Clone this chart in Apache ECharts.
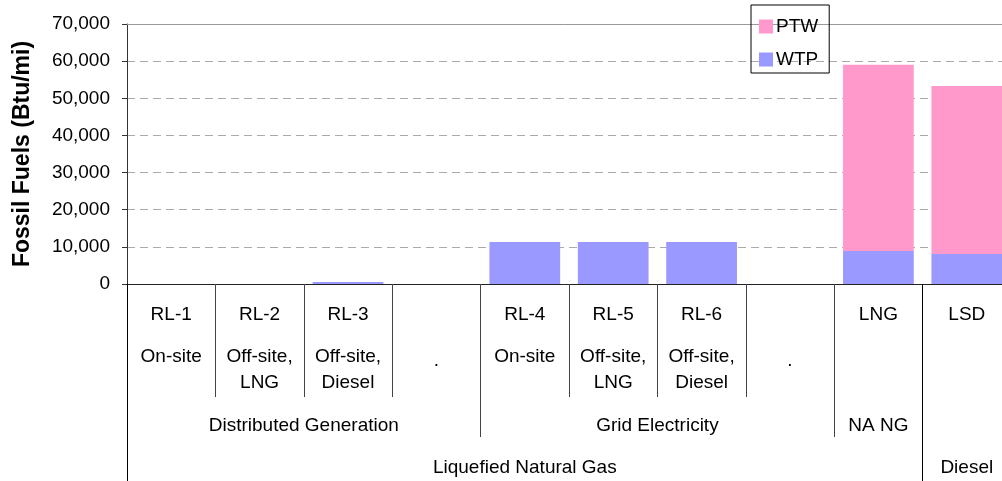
<!DOCTYPE html>
<html>
<head>
<meta charset="utf-8">
<script src="https://cdn.jsdelivr.net/npm/echarts@6/dist/echarts.min.js"></script>
<style>
  html, body { margin: 0; padding: 0; background: #fff; }
  #chart { width: 1002px; height: 481px; }
</style>
</head>
<body>
<div id="chart"></div>
<script>
  // data
  var categories = ['RL-1', 'RL-2', 'RL-3', '', 'RL-4', 'RL-5', 'RL-6', '', 'LNG', 'LSD'];
  var subLabels = ['On-site', 'Off-site,\nLNG', 'Off-site,\nDiesel', '.', 'On-site', 'Off-site,\nLNG', 'Off-site,\nDiesel', '.', '', ''];
  var wtp = [0, 0, 540, 0, 11300, 11300, 11300, 0, 8900, 8100];
  var ptw = [0, 0, 0, 0, 0, 0, 0, 0, 50100, 45200];
  var groupNames = ['Distributed Generation', 'Grid Electricity', 'NA NG', ''];
  var groupSizes = [4, 4, 1, 1];
  var fuelNames = ['Liquefied Natural Gas', 'Diesel'];
  var fuelSizes = [9, 1];
  var yTicks = [0, 10000, 20000, 30000, 40000, 50000, 60000, 70000];

  var font = 'Arial, "Liberation Sans", sans-serif';

  // work out spans for the grouped label rows
  function spans(sizes, names) {
    var bounds = [0], centers = {}, pos = 0;
    for (var i = 0; i < sizes.length; i++) {
      if (names[i]) centers[pos + sizes[i] / 2] = names[i];
      pos += sizes[i];
      bounds.push(pos);
    }
    return {bounds: bounds, centers: centers};
  }
  var grp = spans(groupSizes, groupNames);
  var fuel = spans(fuelSizes, fuelNames);
  var colBounds = categories.map(function (c, i) { return i; }).slice(1);

  var myChart = echarts.init(document.getElementById('chart'));

  var labelBase = {color: '#000', fontSize: 19, fontFamily: font, lineHeight: 20};

  var option = {
    animation: false,
    grid: {left: 127, right: -9, top: 24, bottom: 197, containLabel: false, outerBoundsMode: 'none'},
    legend: {
      data: ['PTW', 'WTP'],
      orient: 'vertical',
      left: 751,
      top: 5,
      padding: [12, 11, 4, 8],
      itemGap: 14,
      itemWidth: 14,
      itemHeight: 14,
      borderColor: '#000',
      borderWidth: 1,
      textStyle: {fontSize: 19, fontFamily: font, color: '#000', lineHeight: 16, padding: [0, 0, 0, -2]},
      icon: 'rect'
    },
    xAxis: [
      {
        type: 'category',
        position: 'bottom', offset: 0,
        data: categories,
        axisLine: {lineStyle: {color: '#222'}},
        axisTick: {show: false},
        axisLabel: Object.assign({interval: 0, margin: 21}, labelBase)
      },
      {
        type: 'category',
        position: 'bottom', offset: 0,
        data: subLabels,
        axisLine: {show: false},
        axisTick: {show: false},
        axisLabel: Object.assign({}, labelBase, {
          interval: 0, margin: 60, lineHeight: 26,
          formatter: function (v) { return v === '.' ? '{dot|.}' : v; },
          rich: {dot: {fontSize: 19, fontFamily: font, color: '#000', padding: [8, 0, 0, 0]}}
        })
      },
      {
        type: 'value', min: 0, max: 10,
        position: 'bottom', offset: 0,
        axisLine: {show: false},
        splitLine: {show: false},
        axisTick: {show: true, customValues: colBounds, length: 113, lineStyle: {color: '#444'}},
        axisLabel: {show: false}
      },
      {
        type: 'value', min: 0, max: 10,
        position: 'bottom', offset: 0,
        axisLine: {show: false},
        splitLine: {show: false},
        axisTick: {customValues: [grp.bounds[1], grp.bounds[2], grp.bounds[3]], length: 153, lineStyle: {color: '#444'}},
        axisLabel: Object.assign({}, labelBase, {
          margin: 132,
          customValues: Object.keys(grp.centers).map(Number),
          formatter: function (v) { return grp.centers[v] || ''; }
        })
      },
      {
        type: 'value', min: 0, max: 10,
        position: 'bottom', offset: 0,
        axisLine: {show: false},
        splitLine: {show: false},
        axisTick: {customValues: fuel.bounds, length: 197, lineStyle: {color: '#000'}},
        axisLabel: Object.assign({}, labelBase, {
          margin: 174,
          customValues: Object.keys(fuel.centers).map(Number),
          formatter: function (v) { return fuel.centers[v] || ''; }
        })
      },
      {
        type: 'category',
        position: 'top', offset: 0,
        data: categories,
        axisLine: {lineStyle: {color: '#999'}},
        axisTick: {show: false},
        axisLabel: {show: false}
      }
    ],
    yAxis: {
      type: 'value',
      min: yTicks[0],
      max: yTicks[yTicks.length - 1],
      interval: 10000,
      name: 'Fossil Fuels (Btu/mi)',
      nameLocation: 'middle',
      nameGap: 93,
      nameTextStyle: {fontSize: 23, fontWeight: 'bold', fontFamily: font, color: '#000'},
      axisLine: {show: true, lineStyle: {color: '#333'}},
      axisTick: {show: true, length: 5, lineStyle: {color: '#333'}},
      axisLabel: {
        color: '#000', fontSize: 19, fontFamily: font, margin: 17,
        formatter: function (v) { return v.toLocaleString('en-US'); }
      },
      splitLine: {lineStyle: {color: '#aaa', type: [8, 5]}}
    },
    series: [
      {
        name: 'WTP',
        type: 'bar',
        stack: 'total',
        data: wtp,
        barCategoryGap: '20%',
        itemStyle: {color: '#9999FF'}
      },
      {
        name: 'PTW',
        type: 'bar',
        stack: 'total',
        data: ptw,
        itemStyle: {color: '#FF99CC'}
      }
    ]
  };

  myChart.setOption(option);
</script>
</body>
</html>
